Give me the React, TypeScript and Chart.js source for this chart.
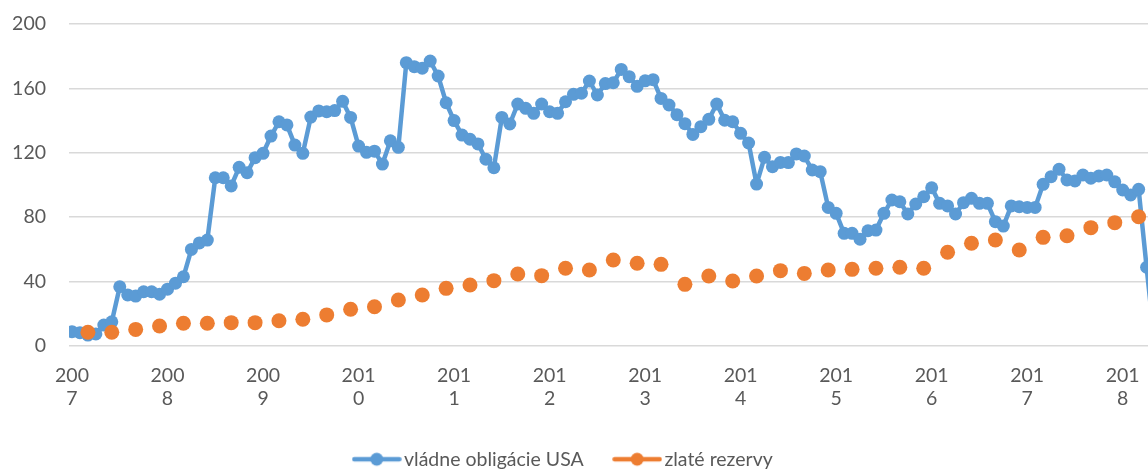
import React, { useEffect, useRef } from 'react';
import { Chart, registerables } from 'chart.js';

Chart.register(...registerables);

// ---------------- data ----------------
const years = ['2007', '2008', '2009', '2010', '2011', '2012', '2013', '2014', '2015', '2016', '2017', '2018'];
const yTicks = [0, 40, 80, 120, 160, 200];

const bondLabel = 'vládne obligácie USA';
const goldLabel = 'zlaté rezervy';

// monthly values, starting January 2007
const bondValues = [
  8.9, 8.3, 6.8, 7.5, 13, 15, 36.8, 31.7, 31, 33.7, 33.7, 32.2,
  35.3, 39, 43, 60, 64, 65.8, 104.5, 104.5, 99.4, 111, 107.6, 117,
  119.7, 130.4, 139.3, 137.3, 124.8, 119.7, 142.2, 146, 145.5, 146.2, 152, 142,
  124.2, 120.3, 121, 113, 127.5, 123.4, 176, 173.5, 172.5, 177, 167.7, 151.1,
  140, 131, 128.4, 125.5, 116, 110.7, 142, 137.9, 150.3, 147.6, 144.5, 150.3,
  145.5, 144.5, 151.7, 156.3, 157, 164.6, 155.9, 163, 163.5, 171.8, 167.3, 161.3,
  164.7, 165.4, 153.8, 149.7, 143.7, 138.1, 131.4, 136.2, 140.8, 150.3, 140.2, 139.3,
  132.1, 126.1, 100.6, 117.2, 111.4, 114, 113.9, 119.3, 118, 109.3, 108.3, 86.1,
  82.4, 70, 70, 66.3, 71.6, 72, 82.4, 90.7, 89.6, 82, 88.2, 92.7,
  98.3, 88.6, 87, 82, 89, 91.7, 88.6, 88.6, 77.2, 74.5, 87, 86.5,
  86.1, 86.1, 100.4, 105.2, 109.8, 103.1, 102.5, 106.2, 104.2, 105.6, 106.2, 102,
  96.9, 93.8, 97.3, 48.9, 2,
];

// quarterly values (end of quarter: March, June, September, December), starting March 2007
const goldFirstMonth = 2;
const goldMonthStep = 3;
const goldValues = [
  8.5, 8.5, 10.3, 12.4,
  14.1, 14.1, 14.5, 14.5,
  15.7, 16.6, 19.3, 22.8,
  24.4, 28.6, 31.7, 35.8,
  37.9, 40.6, 44.7, 43.7,
  48.3, 47.2, 53.4, 51.4,
  50.7, 38.3, 43.5, 40.4,
  43.5, 46.8, 45.1, 47.2,
  47.6, 48.3, 48.9, 48.3,
  58.2, 63.8, 65.8, 59.6,
  67.5, 68.5, 73.5, 76.6,
  80.3,
];

// ---------------- styles ----------------
const BLUE = '#5B9BD5';
const ORANGE = '#ED7D31';
const TEXT = '#595959';
const GRID = '#D9D9D9';
const FONT = 'Lato';
const FONT_SIZE = 19.5;

const OFFSET_LEFT = 16;
const VIEW_W = 1148;
const VIEW_H = 471;
const CANVAS_W = VIEW_W + OFFSET_LEFT;
const CANVAS_H = 479;
const TOP_PAD = 24;
const PLOT_BOTTOM = 346;
const Y_AXIS_W = 69 + OFFSET_LEFT;
const LEGEND_PAD = 36;
const LEGEND_H = FONT_SIZE + LEGEND_PAD + 10;
const X_AXIS_H = CANVAS_H - PLOT_BOTTOM - LEGEND_H;
const MONTH_PX = 7.96;
const X_MIN = -3 / MONTH_PX;
const X_MAX = (VIEW_W - 72) / MONTH_PX;

function legendMarker(color: string, radius: number): HTMLCanvasElement {
  const c = document.createElement('canvas');
  c.width = 50;
  c.height = 18;
  const ctx = c.getContext('2d')!;
  ctx.strokeStyle = color;
  ctx.lineWidth = 4.5;
  ctx.lineCap = 'round';
  ctx.beginPath();
  ctx.moveTo(2.5, 9);
  ctx.lineTo(47.5, 9);
  ctx.stroke();
  ctx.fillStyle = color;
  ctx.beginPath();
  ctx.arc(25, 9, radius, 0, Math.PI * 2);
  ctx.fill();
  return c;
}

export default function App() {
  const ref = useRef<HTMLCanvasElement | null>(null);

  useEffect(() => {
    if (!ref.current) return;
    const blueMarker = legendMarker(BLUE, 6.5);
    const orangeMarker = legendMarker(ORANGE, 6.5);

    const chart = new Chart(ref.current, {
      type: 'line',
      data: {
        datasets: [
          {
            label: bondLabel,
            data: bondValues.map((v, i) => ({ x: i, y: v })),
            borderColor: BLUE,
            backgroundColor: BLUE,
            borderWidth: 4.5,
            borderJoinStyle: 'round',
            borderCapStyle: 'round',
            pointRadius: 6.5,
            pointBorderWidth: 0,
            pointBackgroundColor: BLUE,
            tension: 0,
            order: 1,
          },
          {
            label: goldLabel,
            data: goldValues.map((v, k) => ({ x: goldFirstMonth + goldMonthStep * k, y: v })),
            showLine: false,
            borderColor: ORANGE,
            backgroundColor: ORANGE,
            pointRadius: 7.5,
            pointBorderWidth: 0,
            pointBackgroundColor: ORANGE,
            order: 0,
          },
        ],
      },
      options: {
        responsive: false,
        animation: false,
        layout: { autoPadding: false, padding: { top: TOP_PAD, left: 0, right: 0, bottom: 0 } },
        plugins: {
          tooltip: { enabled: false },
          legend: {
            position: 'bottom',
            labels: {
              usePointStyle: true,
              pointStyleWidth: 35,
              padding: LEGEND_PAD,
              color: TEXT,
              font: { family: FONT, size: FONT_SIZE },
              generateLabels: () => [
                {
                  text: bondLabel,
                  fillStyle: BLUE,
                  strokeStyle: BLUE,
                  lineWidth: 0,
                  pointStyle: blueMarker,
                  fontColor: TEXT,
                  hidden: false,
                  datasetIndex: 0,
                },
                {
                  text: goldLabel,
                  fillStyle: ORANGE,
                  strokeStyle: ORANGE,
                  lineWidth: 0,
                  pointStyle: orangeMarker,
                  fontColor: TEXT,
                  hidden: false,
                  datasetIndex: 1,
                },
              ] as any,
            },
          },
        },
        scales: {
          x: {
            type: 'linear',
            min: X_MIN,
            max: X_MAX,
            grid: {
              display: true,
              drawOnChartArea: false,
              drawTicks: true,
              tickLength: 18,
              tickColor: 'rgba(0,0,0,0)',
              color: 'rgba(0,0,0,0)',
            },
            border: { display: false },
            afterBuildTicks: (scale: any) => {
              scale.ticks = years.map((_, i) => ({ value: i * 12 }));
            },
            afterFit: (scale: any) => {
              scale.height = X_AXIS_H;
            },
            ticks: {
              autoSkip: false,
              maxRotation: 0,
              minRotation: 0,
              padding: 0,
              color: TEXT,
              font: { family: FONT, size: FONT_SIZE, lineHeight: 1.2 },
              callback: (value: any) => {
                const y = years[Math.round(Number(value) / 12)];
                return y ? [y.slice(0, 3), y.slice(3)] : '';
              },
            },
          },
          y: {
            type: 'linear',
            min: 0,
            max: 200,
            afterBuildTicks: (scale: any) => {
              scale.ticks = yTicks.map((v) => ({ value: v }));
            },
            afterFit: (scale: any) => {
              scale.width = Y_AXIS_W;
            },
            grid: {
              color: GRID,
              lineWidth: 1.5,
              drawTicks: true,
              tickLength: 23,
              tickColor: 'rgba(0,0,0,0)',
            },
            border: { display: false },
            ticks: {
              padding: 0,
              color: TEXT,
              font: { family: FONT, size: FONT_SIZE },
            },
          },
        },
      },
    } as any);

    return () => chart.destroy();
  }, []);

  return (
    <div
      style={{
        position: 'absolute',
        left: 0,
        top: 0,
        width: VIEW_W,
        height: VIEW_H,
        overflow: 'hidden',
        background: '#fff',
      }}
    >
      <canvas
        ref={ref}
        width={CANVAS_W}
        height={CANVAS_H}
        style={{ position: 'absolute', left: -OFFSET_LEFT, top: 0, width: CANVAS_W, height: CANVAS_H }}
      />
    </div>
  );
}
